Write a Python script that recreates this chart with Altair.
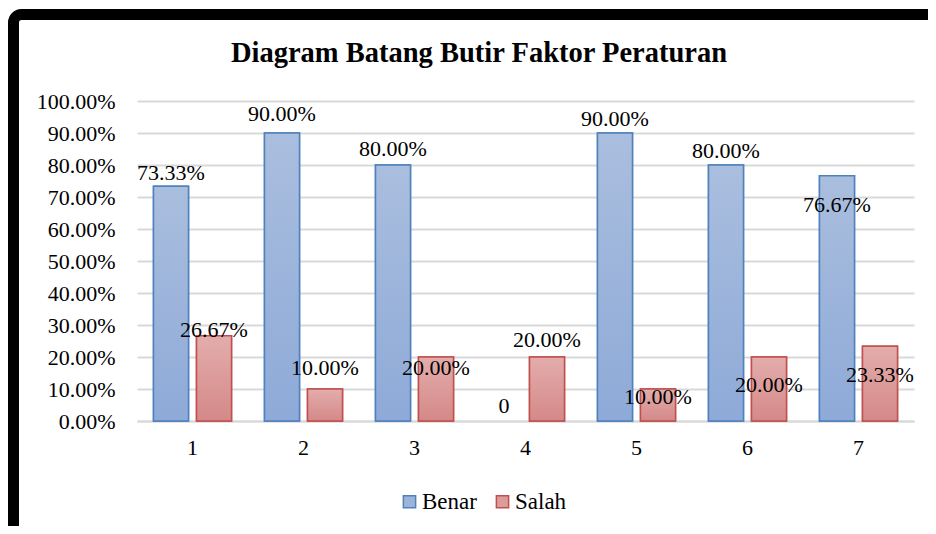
import altair as alt
import pandas as pd

categories = ["1", "2", "3", "4", "5", "6", "7"]
series = ["Benar", "Salah"]
benar = [73.33, 90.00, 80.00, 0.00, 90.00, 80.00, 76.67]
salah = [26.67, 10.00, 20.00, 20.00, 10.00, 20.00, 23.33]
# vertical nudge of each data label from its bar top, in percentage points (as in the original)
benar_label_shift = [4.1, 5.9, 5.0, 4.7, 4.4, 4.4, -9.1]
salah_label_shift = [1.9, 6.6, -3.4, 5.3, -2.5, -8.75, -9.1]
y_ticks = [0.0, 0.1, 0.2, 0.3, 0.4, 0.5, 0.6, 0.7, 0.8, 0.9, 1.0]
title_text = ["Diagram Batang Butir Faktor Peraturan"]

rows = []
for i, c in enumerate(categories):
    for s, vals, shifts in (("Benar", benar, benar_label_shift), ("Salah", salah, salah_label_shift)):
        v = vals[i]
        rows.append({
            "category": c,
            "series": s,
            "value": v / 100.0,
            "label": f"{v:.2f}%" if v != 0 else "0",
            "label_pos": (v + shifts[i]) / 100.0,
        })
df = pd.DataFrame(rows)

FONT = "Liberation Serif"

x_enc = alt.X("category:N", sort=categories,
              scale=alt.Scale(paddingInner=0.297, paddingOuter=0.1486),
              axis=alt.Axis(title=None, labelAngle=0, labelFont=FONT, labelFontSize=22,
                            labelColor="black", labelPadding=16, ticks=False,
                            domain=True, domainColor="#d9d9d9", domainWidth=2, grid=False))
xo_enc = alt.XOffset("series:N", sort=series,
                     scale=alt.Scale(paddingInner=0.186, paddingOuter=0))
y_scale = alt.Scale(domain=[0, 1])
y_axis = alt.Axis(title=None, format=".2%", values=y_ticks, labelFont=FONT,
                  labelFontSize=22, labelColor="black", labelPadding=22,
                  labelOverlap=False, ticks=False, domain=False, grid=True,
                  gridColor="#d9d9d9", gridWidth=2)
y_enc = alt.Y("value:Q", scale=y_scale, axis=y_axis)

base = alt.Chart(df)
legend = alt.Legend(title=None, orient="none", legendX=261, legendY=389,
                    direction="horizontal", labelFont=FONT, labelFontSize=23,
                    labelColor="black", symbolType="square", symbolSize=150,
                    symbolStrokeWidth=1.5, labelOffset=1, columnPadding=14)

bars = base.transform_filter("datum.value > 0").mark_bar(strokeWidth=1.5).encode(
    x=x_enc, xOffset=xo_enc, y=y_enc,
    fill=alt.Fill("series:N", scale=alt.Scale(domain=series, range=["#9cb3db", "#dc9c9b"]),
                  legend=legend),
    stroke=alt.Stroke("series:N", scale=alt.Scale(domain=series, range=["#4f81bd", "#c0504d"]),
                      legend=legend),
)

grad_b = base.transform_filter("datum.series == 'Benar' && datum.value > 0").mark_bar(
    fill=alt.Gradient(gradient="linear", x1=0, x2=0, y1=0, y2=1,
                      stops=[alt.GradientStop(color="#aabede", offset=0),
                             alt.GradientStop(color="#8eaad8", offset=1)]),
    stroke="#4f81bd", strokeWidth=1.5,
).encode(x=x_enc, xOffset=xo_enc, y=y_enc)

grad_s = base.transform_filter("datum.series == 'Salah' && datum.value > 0").mark_bar(
    fill=alt.Gradient(gradient="linear", x1=0, x2=0, y1=0, y2=1,
                      stops=[alt.GradientStop(color="#e3adac", offset=0),
                             alt.GradientStop(color="#d48988", offset=1)]),
    stroke="#c0504d", strokeWidth=1.5,
).encode(x=x_enc, xOffset=xo_enc, y=y_enc)

labels = base.mark_text(font=FONT, fontSize=22, color="black", baseline="middle",
                        align="center").encode(
    x=x_enc, xOffset=xo_enc, y=alt.Y("label_pos:Q", scale=y_scale, axis=y_axis),
    text="label:N")

frame = alt.Chart(pd.DataFrame({"k": [0]})).mark_rect(
    filled=False, stroke="black", strokeWidth=11, cornerRadius=8
).encode(x=alt.value(-123.5), x2=alt.value(806), y=alt.value(-86.5), y2=alt.value(445))

title = alt.Chart(pd.DataFrame({"t": title_text})).mark_text(
    font=FONT, fontSize=28.5, fontWeight="bold", color="black", align="center",
    baseline="alphabetic"
).encode(text="t:N", x=alt.value(342), y=alt.value(-39))

chart = alt.layer(frame, title, bars, grad_b, grad_s, labels).properties(
    width=777, height=320,
    padding={"left": 129, "top": 93, "right": 14, "bottom": 105},
    autosize=alt.AutoSizeParams(type="none"),
    background="white",
).configure_view(strokeWidth=0, stroke="transparent").configure_legend(
    labelFont=FONT, labelFontSize=23, labelColor="black"
).configure_axisY(labelOverlap=False)

chart.save("out.html", embed_options={"renderer": "svg", "actions": False})
